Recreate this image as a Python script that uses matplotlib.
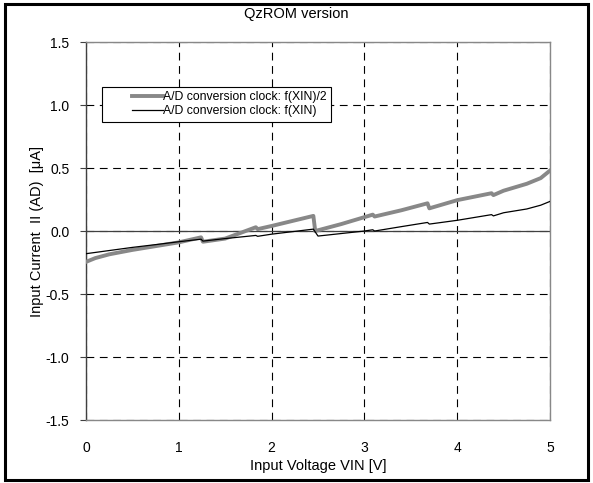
import matplotlib
matplotlib.use("Agg")
import matplotlib.pyplot as plt
from matplotlib.patches import Rectangle
from matplotlib.legend_handler import HandlerLine2D

plt.rcParams['font.family'] = ['Liberation Sans', 'DejaVu Sans']

# f(XIN)/2 curve (gray, thick)
vin_half = [0.00, 0.10, 0.25, 0.50, 0.75, 1.00, 1.24, 1.26, 1.50, 1.83, 1.85, 2.00,
            2.45, 2.47, 2.75, 3.00, 3.09, 3.11, 3.40, 3.68, 3.70, 4.00, 4.37, 4.39,
            4.50, 4.75, 4.90, 5.00]
ia_half = [-0.245, -0.215, -0.185, -0.150, -0.120, -0.090, -0.050, -0.085, -0.060,
           0.030, 0.015, 0.040, 0.120, 0.000, 0.055, 0.110, 0.130, 0.115, 0.165,
           0.220, 0.180, 0.245, 0.300, 0.285, 0.320, 0.375, 0.420, 0.480]

# f(XIN) curve (black, thin)
vin_full = [0.00, 0.25, 0.50, 0.75, 1.00, 1.24, 1.26, 1.50, 1.83, 1.85, 2.00, 2.45,
            2.50, 2.75, 3.00, 3.09, 3.11, 3.40, 3.68, 3.70, 4.00, 4.37, 4.39, 4.50,
            4.75, 4.90, 5.00]
ia_full = [-0.180, -0.155, -0.130, -0.108, -0.085, -0.065, -0.080, -0.060, -0.035,
           -0.042, -0.025, 0.015, -0.040, -0.020, 0.000, 0.010, 0.000, 0.035,
           0.068, 0.055, 0.085, 0.130, 0.120, 0.145, 0.175, 0.205, 0.235]

xticks = [0, 1, 2, 3, 4, 5]
yticks = [-1.5, -1.0, -0.5, 0.0, 0.5, 1.0, 1.5]


class ShiftedLine(HandlerLine2D):
    # legend line drawn only on the right part of the handle box
    def create_artists(self, legend, orig_handle, xdescent, ydescent, width, height,
                       fontsize, trans):
        gap = width * 0.45
        return super().create_artists(legend, orig_handle, xdescent - gap, ydescent,
                                      width - gap, height, fontsize, trans)


fig = plt.figure(figsize=(5.93, 4.83), dpi=100)
ax = fig.add_axes([0.145, 0.1304, 0.7825, 0.7826])

l1, = ax.plot(vin_half, ia_half, color='#888888', lw=2.8, zorder=3)
l2, = ax.plot(vin_full, ia_full, color='black', lw=0.9, zorder=4)
ax.axhline(0, color='#404040', lw=0.9, zorder=2)

ax.set_xlim(0, 5)
ax.set_ylim(-1.5, 1.5)
ax.set_xticks(xticks)
ax.set_yticks(yticks)
ax.set_yticklabels([f'{v:.1f}' for v in yticks])
ax.grid(True, color='black', ls=(0, (7, 5)), lw=0.8)
ax.tick_params(axis='x', length=0, pad=15, labelsize=10)
ax.tick_params(axis='y', length=4, direction='out', pad=8, labelsize=10, color='#404040')

for side in ['top', 'right', 'bottom']:
    ax.spines[side].set_color('#888888')
    ax.spines[side].set_linewidth(1.0)
ax.spines['left'].set_color('#404040')
ax.spines['left'].set_linewidth(1.0)

ax.set_xlabel('Input Voltage VIN [V]', fontsize=10.5, labelpad=3)
ax.set_ylabel('Input Current  II (AD)  [μA]', fontsize=10.5)
ax.yaxis.set_label_coords(-0.09, 0.5)
fig.text(0.5, 0.971, 'QzROM version', ha='center', va='center', fontsize=10.5)

leg = ax.legend([l1, l2], ['A/D conversion clock: f(XIN)/2', 'A/D conversion clock: f(XIN)'],
                loc='upper left', bbox_to_anchor=(0.034, 0.882), fontsize=8.8,
                fancybox=False, framealpha=1, edgecolor='black', borderpad=0.35,
                handlelength=4.7, handletextpad=0.0, labelspacing=0.2, borderaxespad=0,
                handler_map={l1: ShiftedLine(), l2: ShiftedLine()})
leg.get_frame().set_linewidth(0.8)

fig.patches.append(Rectangle((0.009, 0.006), 0.983, 0.985, transform=fig.transFigure,
                             fill=False, edgecolor='black', lw=2.2))

fig.savefig('out.png', dpi=100)
